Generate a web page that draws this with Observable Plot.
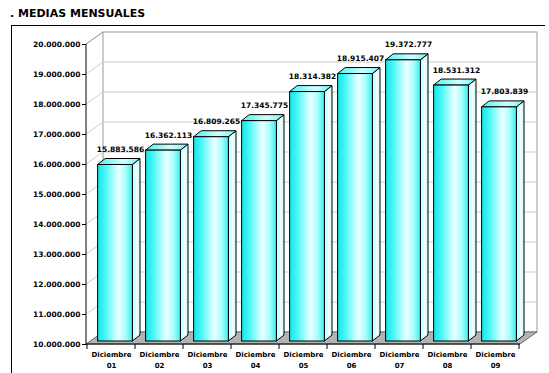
<!DOCTYPE html>
<html><head><meta charset="utf-8">
<script src="https://cdn.jsdelivr.net/npm/d3@7"></script>
<script src="https://cdn.jsdelivr.net/npm/@observablehq/plot@0.6"></script>
<style>
body{margin:0;background:#fff;}
#wrap{position:relative;width:549px;height:373px;overflow:hidden;background:#fff;}
#chart{position:absolute;left:0;top:0;}
#title{position:absolute;left:10px;top:8px;font:bold 11px/11px "DejaVu Sans",sans-serif;color:#000;white-space:nowrap;}
#frame{position:absolute;left:11px;top:25px;width:533px;height:400px;border-top:1px solid #000;border-left:1px solid #000;pointer-events:none;}
</style></head>
<body>
<div id="wrap"><div id="chart"></div><div id="frame"></div><div id="title">. MEDIAS MENSUALES</div></div>
<script>
const months = ["Diciembre","Diciembre","Diciembre","Diciembre","Diciembre","Diciembre","Diciembre","Diciembre","Diciembre"];
const years = ["01","02","03","04","05","06","07","08","09"];
const values = [15883586, 16362113, 16809265, 17345775, 18314382, 18915407, 19372777, 18531312, 17803839];
const yDomain = [10000000, 20000000];
const categories = months.map((m, i) => m + " " + years[i]);
const fmt = d => d3.format(",")(d).replace(/,/g, ".");

// depth styling (pixels)
const DX = 17, DY = 12;          // wall depth
const B0X = 4, B0Y = 3;          // bar front offset
const BDX = 7.6, BDY = 6;        // bar depth
const INSET = 6.6;

function background(index, scales, vals, dims) {
  const x = scales.x, y = scales.y;
  const bw = x.bandwidth();
  const x0 = dims.marginLeft, x1 = dims.width - dims.marginRight;
  const yTop = y(yDomain[1]), yBot = y(yDomain[0]);
  const g = d3.create("svg:g");
  const defs = g.append("defs");
  const gf = defs.append("linearGradient").attr("id", "gFront");
  [[0,"#18e4e4"],[0.2,"#40f6f6"],[0.6,"#ecffff"],[0.82,"#a0ffff"],[1,"#38ecec"]]
    .forEach(([o,c]) => gf.append("stop").attr("offset", o).attr("stop-color", c));
  const gs = defs.append("linearGradient").attr("id", "gSide");
  [[0,"#b8fafa"],[0.5,"#f0ffff"],[1,"#c8fcfc"]]
    .forEach(([o,c]) => gs.append("stop").attr("offset", o).attr("stop-color", c));
  const gt = defs.append("linearGradient").attr("id", "gTop");
  [[0,"#50f0f0"],[0.6,"#d0ffff"],[1,"#70f4f4"]]
    .forEach(([o,c]) => gt.append("stop").attr("offset", o).attr("stop-color", c));

  // back wall
  g.append("rect").attr("x", x0 + DX).attr("y", yTop - DY)
    .attr("width", x1 - x0).attr("height", yBot - yTop)
    .attr("fill", "#fff").attr("stroke", "#9a9a9a");
  // gridlines
  y.ticks(10).forEach(t => {
    if (t <= yDomain[0] || t >= yDomain[1]) return;
    const yy = y(t);
    g.append("line").attr("x1", x0 + DX).attr("x2", x1 + DX).attr("y1", yy - DY).attr("y2", yy - DY)
      .attr("stroke", "#c8c8c8");
    g.append("line").attr("x1", x0).attr("x2", x0 + DX).attr("y1", yy).attr("y2", yy - DY)
      .attr("stroke", "#d0d0d0");
  });
  // top diagonal
  g.append("line").attr("x1", x0).attr("x2", x0 + DX).attr("y1", yTop).attr("y2", yTop - DY)
    .attr("stroke", "#8a8a8a");
  // floor
  g.append("polygon")
    .attr("points", [[x0,yBot],[x1,yBot],[x1+DX,yBot-DY],[x0+DX,yBot-DY]].map(p => p.join(",")).join(" "))
    .attr("fill", "#b4b4b4").attr("stroke", "#6e6e6e");
  // axis lines
  g.append("line").attr("x1", x0).attr("x2", x0).attr("y1", yTop).attr("y2", yBot).attr("stroke", "#000");
  g.append("line").attr("x1", x0).attr("x2", x1).attr("y1", yBot).attr("y2", yBot).attr("stroke", "#000");
  // x ticks at band boundaries
  const bounds = categories.map(c => x(c)).concat([x(categories[categories.length - 1]) + bw]);
  bounds.forEach(bx => g.append("line").attr("x1", bx).attr("x2", bx).attr("y1", yBot).attr("y2", yBot + 5).attr("stroke", "#000"));
  return g.node();
}

function barDepth(index, scales) {
  const x = scales.x, y = scales.y;
  const bw = x.bandwidth();
  const g = d3.create("svg:g").attr("stroke", "#000").attr("stroke-width", 1).attr("stroke-linejoin", "round");
  categories.forEach((c, i) => {
    const xl = x(c) + INSET + B0X, xr = x(c) + bw - INSET + B0X;
    const yt = y(values[i]) - B0Y, yb = y(yDomain[0]) - B0Y;
    g.append("polygon")
      .attr("points", [[xr,yt],[xr+BDX,yt-BDY],[xr+BDX,yb-BDY],[xr,yb]].map(p => p.join(",")).join(" "))
      .attr("fill", "url(#gSide)");
    g.append("polygon")
      .attr("points", [[xl,yt],[xr,yt],[xr+BDX,yt-BDY],[xl+BDX,yt-BDY]].map(p => p.join(",")).join(" "))
      .attr("fill", "url(#gTop)");
  });
  return g.node();
}

const chart = Plot.plot({
  width: 549,
  height: 373,
  marginLeft: 86,
  marginRight: 29,
  marginTop: 44,
  marginBottom: 29,
  style: {background: "transparent", fontFamily: "DejaVu Sans", fontWeight: "bold", fontSize: "7.5px", color: "#000"},
  x: {domain: categories, padding: 0, axis: null},
  y: {domain: yDomain, ticks: 10, tickFormat: fmt, tickSize: 4, tickPadding: 2, label: null, grid: false},
  marks: [
    background,
    barDepth,
    Plot.barY(values, {
      x: categories, y1: yDomain[0], y2: values,
      dx: B0X, dy: -B0Y, insetLeft: INSET, insetRight: INSET,
      fill: "url(#gFront)", stroke: "#000", strokeWidth: 1
    }),
    Plot.text(values, {
      x: categories, y: values, text: values.map(fmt),
      dx: 9, dy: -16, lineAnchor: "bottom", textAnchor: "middle",
      fontSize: 7.5, fontWeight: "bold", fill: "#000"
    }),
    Plot.text(categories, {
      x: categories, text: months, frameAnchor: "bottom", dy: 12.5,
      fontSize: 7, fontWeight: "bold", fill: "#000"
    }),
    Plot.text(categories, {
      x: categories, text: years, frameAnchor: "bottom", dy: 23,
      fontSize: 7, fontWeight: "bold", fill: "#000"
    })
  ]
});
document.getElementById("chart").appendChild(chart);
</script>
</body></html>
